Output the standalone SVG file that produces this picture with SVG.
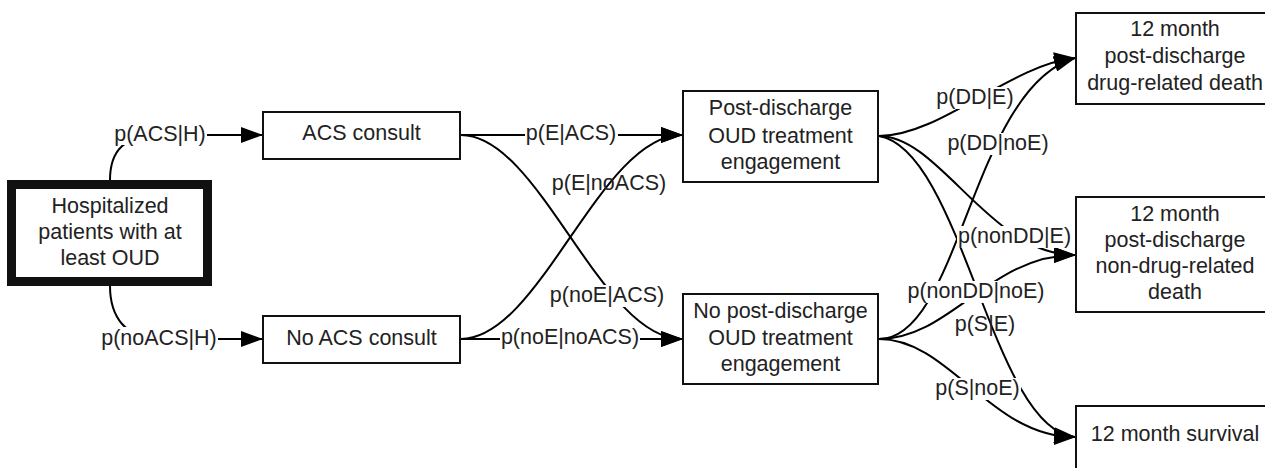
<svg xmlns="http://www.w3.org/2000/svg" width="1265" height="468" viewBox="0 0 1265 468">
<style>
.box{fill:#fff;stroke:#111;stroke-width:2}
.thick{fill:#fff;stroke:#111;stroke-width:9}
.t{font-family:"Liberation Sans",Arial,sans-serif;font-size:21.5px;fill:#222;text-anchor:middle}
.c{fill:none;stroke:#000;stroke-width:2;marker-end:url(#arr)}
.bg{fill:#fff}
</style>
<defs>
<marker id="arr" markerUnits="userSpaceOnUse" markerWidth="22" markerHeight="16" viewBox="0 0 22 16" refX="21" refY="8" orient="auto">
<path d="M0,0 L22,8 L0,16 z" fill="#000"/>
</marker>
</defs>
<rect x="0" y="0" width="1265" height="468" fill="#fff"/>

<g id="connectors">
<path class="c" d="M110,180 C110,150 125,135 160,135 L262,135"/>
<path class="c" d="M110,286 C110,316 125,339 160,339 L262,339"/>
<path class="c" d="M461,135 L682,135"/>
<path class="c" d="M461,135 C540,135 600,339 682,339"/>
<path class="c" d="M461,339 C540,339 600,135 682,135"/>
<path class="c" d="M461,339 L682,339"/>
<path class="c" d="M879,136 C940,136 1010,65 1075,58"/>
<path class="c" d="M879,136 C940,136 990,255 1075,255"/>
<path class="c" d="M879,136 C962,150 992,430 1075,437"/>
<path class="c" d="M879,339 C960,339 972,88 1075,58"/>
<path class="c" d="M879,339 C950,339 990,255 1075,255"/>
<path class="c" d="M879,339 C950,339 990,437 1075,437"/>

<rect class="bg" x="113" y="123" width="94" height="22"/>
<text class="t" x="160" y="140.5">p(ACS|H)</text>
<rect class="bg" x="100" y="327" width="118" height="22"/>
<text class="t" x="159" y="344.5">p(noACS|H)</text>
<rect class="bg" x="525" y="123" width="93" height="22"/>
<text class="t" x="571" y="140">p(E|ACS)</text>
<text class="t" x="609" y="190">p(E|noACS)</text>
<rect class="bg" x="549" y="285" width="117" height="22"/>
<text class="t" x="607" y="302">p(noE|ACS)</text>
<rect class="bg" x="500" y="327" width="140" height="22"/>
<text class="t" x="570" y="344">p(noE|noACS)</text>
<rect class="bg" x="936" y="87" width="79" height="22"/>
<text class="t" x="975" y="104">p(DD|E)</text>
<rect class="bg" x="947" y="133" width="103" height="22"/>
<text class="t" x="998" y="150">p(DD|noE)</text>
<rect class="bg" x="957" y="226" width="115" height="22"/>
<text class="t" x="1014.5" y="243">p(nonDD|E)</text>
<rect class="bg" x="906" y="281" width="140" height="22"/>
<text class="t" x="976" y="298">p(nonDD|noE)</text>
<text class="t" x="985" y="331">p(S|E)</text>
<rect class="bg" x="935" y="378" width="86" height="22"/>
<text class="t" x="977.5" y="395">p(S|noE)</text>
</g>

<g id="hospitalized">
<rect class="thick" x="11.5" y="184.5" width="196" height="97"/>
<text class="t" x="110" y="213">Hospitalized</text>
<text class="t" x="110" y="239">patients with at</text>
<text class="t" x="110" y="265">least OUD</text>
</g>

<g id="acs">
<rect class="box" x="263" y="112" width="197" height="47"/>
<text class="t" x="361.5" y="140">ACS consult</text>
</g>

<g id="noacs">
<rect class="box" x="263" y="316" width="197" height="47"/>
<text class="t" x="361.5" y="345">No ACS consult</text>
</g>

<g id="engaged">
<rect class="box" x="683" y="91" width="195" height="91"/>
<text class="t" x="780.5" y="114.5">Post-discharge</text>
<text class="t" x="780.5" y="142.5">OUD treatment</text>
<text class="t" x="780.5" y="168.5">engagement</text>
</g>

<g id="notengaged">
<rect class="box" x="683" y="294" width="195" height="90"/>
<text class="t" x="780.5" y="318">No post-discharge</text>
<text class="t" x="780.5" y="344.5">OUD treatment</text>
<text class="t" x="780.5" y="370.5">engagement</text>
</g>

<g id="dd">
<rect class="box" x="1076" y="13" width="200" height="91"/>
<text class="t" x="1175" y="35.5">12 month</text>
<text class="t" x="1175" y="62.5">post-discharge</text>
<text class="t" x="1175" y="89.5">drug-related death</text>
</g>

<g id="nondd">
<rect class="box" x="1076" y="197" width="200" height="115"/>
<text class="t" x="1175" y="220.5">12 month</text>
<text class="t" x="1175" y="246.5">post-discharge</text>
<text class="t" x="1175" y="272.5">non-drug-related</text>
<text class="t" x="1175" y="298.5">death</text>
</g>

<g id="survival">
<rect class="box" x="1076" y="406" width="200" height="70"/>
<text class="t" x="1175" y="440.5">12 month survival</text>
</g>
</svg>
